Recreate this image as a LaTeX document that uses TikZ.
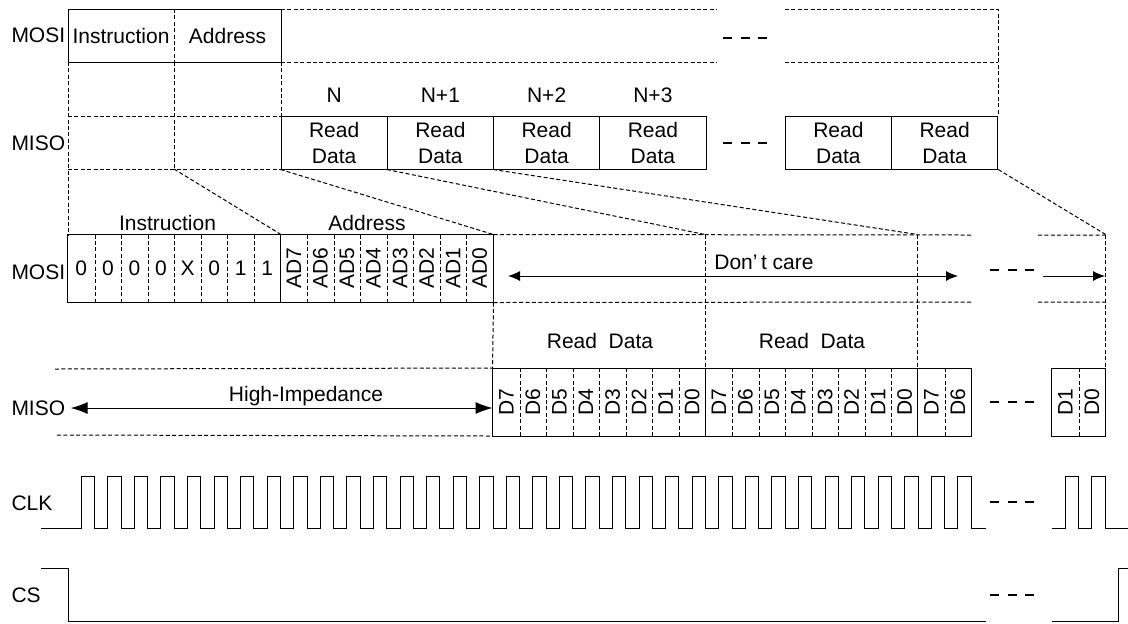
\documentclass[tikz,border=0pt]{standalone}
\usepackage{fontspec}
\usepackage{graphicx}
\setmainfont{Liberation Sans}
\usetikzlibrary{arrows.meta}

\tikzset{
  dsh/.style={dash pattern=on 2pt off 1.2pt},
  ellip/.style={line width=1.3pt, dash pattern=on 4.5pt off 4.25pt},
  lbl/.style={inner sep=0pt, anchor=west},
  txt/.style={inner sep=0pt},
  rdbox/.style={draw, minimum width=53.125pt, minimum height=26.5pt, inner sep=0pt, align=center},
  cell/.style={minimum width=13.28pt, minimum height=33.5pt, inner sep=0pt},
  bigtip/.style={>={Latex[length=8.5pt,width=6pt]}}
}

\begin{document}
\begin{tikzpicture}[x=0.5pt, y=-0.5pt, >={Latex[length=6pt,width=5pt]}, line width=0.5pt,
  font=\fontsize{10.5}{13}\selectfont]
\useasboundingbox (0,0) rectangle (1128,623);

% overview of the frame
\node[lbl] (mosiA) at (11,35) {MOSI};
\node[lbl] (misoA) at (11,143) {MISO};
\node[txt] (insA) at (121,35.5) {Instruction};
\node[txt] (adrA) at (227.5,35.5) {Address};
\draw (68,9) rectangle (281,62);
\draw[dsh] (174,9) -- (174,62);
\draw[dsh] (281,9) -- (717,9) (281,62) -- (717,62);
\draw[dsh] (785,9) -- (998,9) -- (998,116) (785,62) -- (998,62);
\draw[dsh] (68,62) -- (68,235) (174,62) -- (174,169) (281,62) -- (281,116);
\draw[dsh] (68,116) -- (281,116) (68,169) -- (281,169);
\foreach \x/\n [count=\i] in {281/N, 387.25/N+1, 493.5/N+2, 599.75/N+3}{
  \node[txt] (num\i) at (\x+53.125,95) {\n};
  \node[rdbox] (rd\i) at (\x+53.125,142.5) {Read\\Data};
}
\node[rdbox] (rd5) at (838.375,142.5) {Read\\Data};
\node[rdbox] (rd6) at (944.625,142.5) {Read\\Data};
\draw[ellip] (723,38) -- (767,38) (723,143) -- (767,143);

% bit level
\node[lbl] (mosiB) at (11,272) {MOSI};
\node[lbl] (misoB) at (11,408) {MISO};
\node[txt] (insB) at (167.5,223) {Instruction};
\node[txt] (adrB) at (367,223) {Address};
\foreach \t [count=\i] in {0,0,0,0,X,0,1,1}
  \node[cell] (ib\i) at ({68+(\i-0.5)*26.5625},268.5) {\t};
\foreach \t [count=\i] in {7,6,5,4,3,2,1,0}
  \node[cell] (ab\i) at ({280.5+(\i-0.5)*26.5625},268.5) {\rotatebox{90}{AD\t}};
\draw (ib1.north west) rectangle (ab8.south east);
\draw (ab1.north west) -- (ab1.south west);
\foreach \i in {1,...,7}{
  \draw[dsh] (ib\i.north east) -- (ib\i.south east);
  \draw[dsh] (ab\i.north east) -- (ab\i.south east);
}

\foreach \t [count=\i] in {7,6,5,4,3,2,1,0,7,6,5,4,3,2,1,0,7,6}
  \node[cell] (dc\i) at ({493+(\i-0.5)*26.5625},402) {\rotatebox{90}{D\t}};
\foreach \t [count=\i] in {1,0}
  \node[cell] (de\i) at ({1052+(\i-0.5)*26.5625},402) {\rotatebox{90}{D\t}};
\draw (dc1.north west) rectangle (dc18.south east);
\draw (dc9.north west) -- (dc9.south west) (dc17.north west) -- (dc17.south west);
\draw (de1.north west) rectangle (de2.south east);
\foreach \i in {1,2,3,4,5,6,7,9,10,11,12,13,14,15,17}
  \draw[dsh] (dc\i.north east) -- (dc\i.south east);
\draw[dsh] (de1.north east) -- (de1.south east);

\draw[dsh] (55,369) -- (dc1.north west);
\draw[dsh] (57,435) -- (dc1.south west);
\draw[dsh] (ab8.south east) -- (dc1.north west);
\draw[dsh] (ab8.north east) -- (972,235) (1038,235) -- (1105,235);
\draw[dsh] (ab8.south east) -- (972,302) (1038,302) -- (1105,302);
\draw[dsh] (dc9.north west |- ab8.north east) -- (dc9.north west);
\draw[dsh] (dc17.north west |- ab8.north east) -- (dc17.north west);
\draw[dsh] (de2.north east |- ab8.north east) -- (de2.north east);

% zoom lines
\draw[dsh] (174,169) -- (ib8.north east);
\draw[dsh] (rd1.south west) -- (ab8.north east);
\draw[dsh] (rd2.south west) -- (dc9.north west |- ab8.north east);
\draw[dsh] (rd3.south west) -- (dc17.north west |- ab8.north east);
\draw[dsh] (rd6.south east) -- (de2.north east |- ab8.north east);

\node[txt] (dontcare) at (764,262) {Don’\,t care};
\draw[<->] (508,276) -- (958,276);
\draw[->] (1043,276) -- (1105,276);
\node[txt] (rdB1) at (600,341) {Read\ \ Data};
\node[txt] (rdB2) at (812,341) {Read\ \ Data};
\draw[ellip] (990,270) -- (1034,270) (990,402) -- (1034,402);
\node[txt] (hiz) at (306,396) {High-Impedance};
\draw[bigtip, <->, shorten <=2.5pt] (misoB.east) -- (misoB.east -| dc1.west);

% clock and chip select
\node[lbl] (clk) at (11,503) {CLK};
\node[lbl] (cs) at (11,595) {CS};
\draw (41,528) \foreach \k in {0,...,33}{ -- ({68+(\k+0.5)*26.5625},528) |- ({68+(\k+1)*26.5625},476) -- ({68+(\k+1)*26.5625},528)} -- (985.7,528);
\draw (1052,528) -- (1065.3,528) |- (1078.6,476) -- (1078.6,528) -- (1091.8,528) |- (1105,476) -- (1105,528) -- (1128,528);
\draw[ellip] (990,502) -- (1034,502);
\draw (41,568) -| (68,621) -- (985.7,621);
\draw (1052,621) -| (1118,568) -- (1128,568);
\draw[ellip] (990,595) -- (1034,595);

\end{tikzpicture}
\end{document}
